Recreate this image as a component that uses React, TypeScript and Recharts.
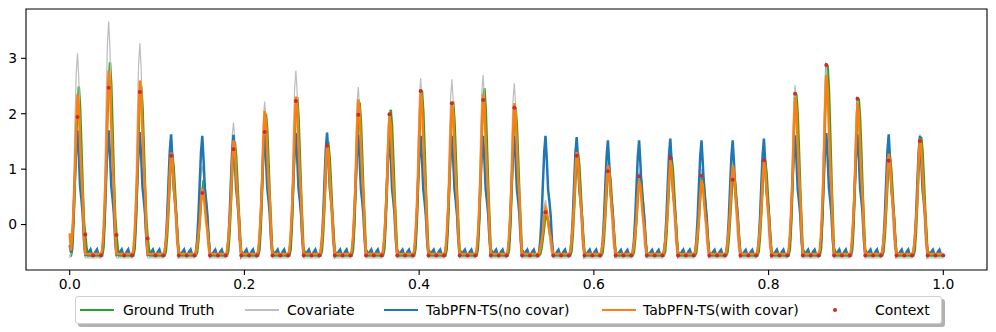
import React from 'react';
import { LineChart, Line, XAxis, YAxis, ReferenceArea } from 'recharts';

// one point per hour, 28 days, x scaled to 0..1
const DAYS = 28;
const HOURS = 24;

// per-day peak heights
const truthPeak = [2.49, 2.93, 2.5, 1.25, 0.8, 1.5, 2.0, 2.3, 1.45, 2.2, 2.07, 2.4, 2.2, 2.46, 2.1, 0.15, 1.3, 1.0, 0.9, 1.2, 0.9, 0.92, 1.15, 2.34, 2.86, 2.25, 1.2, 1.58];
const contextMorning = [1.94, 2.47, 2.39, 1.24, 0.57, 1.36, 1.67, 2.23, 1.42, 1.98, 1.99, 2.41, 2.19, 2.25, 2.11, 0.22, 1.24, 0.96, 0.87, 1.21, 0.88, 0.81, 1.16, 2.36, 2.88, 2.27, 1.15, 1.51];
const contextNoon = [-0.18, -0.19, -0.25, -0.56, -0.56, -0.56, -0.56, -0.56, -0.56, -0.56, -0.56, -0.56, -0.56, -0.56, -0.56, -0.56, -0.56, -0.56, -0.56, -0.56, -0.56, -0.56, -0.56, -0.56, -0.56, -0.56, -0.56, -0.56];
const covarPeak = [3.09, 3.67, 3.27, 1.6, 1.06, 1.84, 2.22, 2.78, 1.66, 2.48, 2.05, 2.64, 2.62, 2.7, 2.55, 0.44, 1.57, 1.1, 0.95, 1.3, 1.0, 1.0, 1.2, 2.52, 2.9, 2.3, 1.3, 1.63];
const withCovPeak = [2.35, 2.78, 2.6, 1.3, 0.65, 1.52, 2.05, 2.31, 1.45, 2.26, 1.95, 2.37, 2.2, 2.35, 2.19, 0.3, 1.31, 1.07, 0.8, 1.16, 0.8, 1.07, 1.15, 2.3, 2.7, 2.2, 1.28, 1.55];
const noCovPeak = [1.7, 1.7, 1.67, 1.63, 1.6, 1.62, 1.62, 1.65, 1.66, 1.62, 1.6, 1.6, 1.6, 1.6, 1.6, 1.6, 1.58, 1.52, 1.52, 1.55, 1.52, 1.52, 1.55, 1.61, 1.65, 1.63, 1.63, 1.6];

// night-time floor of each series
const truthFloor = -0.56;
const covarFloor = -0.6;
const withCovFloor = -0.53;
const noCovFloor = -0.55;

// first reading of the two forecasts at x = 0
const noCovStart = -0.37;
const withCovStart = -0.16;

// daily shapes (0 = floor, 1 = peak), hour 0..23, read from one cycle
const truthShape = [0, 0, 0.04, 0.2, 0.45, 0.72, 0.92, 1, 0.88, 0.65, 0.4, 0.2, 0, 0.02, 0, 0, 0, 0, 0, 0, 0, 0, 0, 0];
const covarShape = [0, 0.02, 0.12, 0.36, 0.65, 0.9, 1, 0.88, 0.62, 0.36, 0.15, 0.04, 0, 0, 0, 0, 0, 0, 0, 0, 0, 0, 0, 0];
const withCovShape = [0, 0.02, 0.12, 0.28, 0.48, 0.8, 1, 0.93, 0.7, 0.5, 0.36, 0.12, 0, 0, 0, 0, 0, 0, 0, 0, 0, 0, 0, 0];
const noCovShape = [0, 0.02, 0.12, 0.32, 0.6, 0.86, 1, 0.8, 0.55, 0.45, 0.33, 0.12, 0, 0, 0.01, 0.03, 0.045, 0.01, 0, 0.01, 0.03, 0.045, 0.01, 0];

const xTicks = [0, 0.2, 0.4, 0.6, 0.8, 1.0];
const yTicks = [0, 1, 2, 3];

const FONT = '"DejaVu Sans", sans-serif';

const total = DAYS * HOURS;
const rows = Array.from({ length: total + 1 }, (_, i) => {
  const d = Math.min(Math.floor(i / HOURS), DAYS - 1);
  const hh = i - d * HOURS;
  const h = hh % HOURS;
  const scale = (floor: number, peak: number, s: number) => floor + (peak - floor) * s;
  let truth = scale(truthFloor, truthPeak[d], truthShape[h]);
  if (h === 6) truth = contextMorning[d];
  if (hh === 12) truth = contextNoon[d];
  if (hh === 13 && contextNoon[d] > truthFloor) truth = (contextNoon[d] + truthFloor * 2) / 3;
  return {
    x: i / total,
    truth,
    covar: scale(covarFloor, covarPeak[d], covarShape[h]),
    noCov: i === 0 ? noCovStart : scale(noCovFloor, noCovPeak[d], noCovShape[h]),
    withCov: i === 0 ? withCovStart : scale(withCovFloor, withCovPeak[d], withCovShape[h]),
    ctx: i > 0 && i % 6 === 0 ? truth : null,
  };
});

const legendItems = [
  { name: 'Ground Truth', color: '#2ca02c', width: 2.2, handle: 80, text: 123 },
  { name: 'Covariate', color: '#bfbfbf', width: 1.2, handle: 245, text: 287 },
  { name: 'TabPFN-TS(no covar)', color: '#1f77b4', width: 2.2, handle: 384, text: 426 },
  { name: 'TabPFN-TS(with covar)', color: '#ff7f0e', width: 2.2, handle: 602, text: 643 },
  { name: 'Context', color: '#d62728', width: 0, handle: 818, text: 875 },
];

const App = () => {
  return (
    <div style={{ position: 'absolute', left: 0, top: 0, width: 996, height: 332, background: '#fff', fontFamily: FONT }}>
      <LineChart width={996} height={332} data={rows} margin={{ top: 9, right: 9, bottom: 0, left: 6 }}>
        <XAxis
          type="number"
          dataKey="x"
          domain={[-0.05, 1.05]}
          ticks={xTicks}
          interval={0}
          allowDataOverflow
          height={62}
          tickSize={5}
          tickMargin={4}
          tickFormatter={(v: number) => v.toFixed(1)}
          tick={{ fill: '#000', fontSize: 13.9, fontFamily: FONT }}
          axisLine={false}
          tickLine={{ stroke: '#000', strokeWidth: 1.1 }}
        />
        <YAxis
          type="number"
          domain={[-0.82, 3.89]}
          ticks={yTicks}
          interval={0}
          allowDataOverflow
          width={20}
          tickSize={5}
          tickMargin={4}
          tick={{ fill: '#000', fontSize: 13.9, fontFamily: FONT }}
          axisLine={false}
          tickLine={{ stroke: '#000', strokeWidth: 1.1 }}
        />
        <Line type="linear" dataKey="truth" stroke="#2ca02c" strokeWidth={2.5} dot={false} isAnimationActive={false} />
        <Line type="linear" dataKey="covar" stroke="#bdbdbd" strokeWidth={1.2} dot={false} isAnimationActive={false} />
        <Line type="linear" dataKey="noCov" stroke="#1f77b4" strokeWidth={2.5} dot={false} isAnimationActive={false} />
        <Line type="linear" dataKey="withCov" stroke="#ff7f0e" strokeWidth={2.5} dot={false} isAnimationActive={false} />
        <Line
          type="linear"
          dataKey="ctx"
          stroke="none"
          dot={{ r: 2, fill: '#d62728', stroke: 'none' }}
          activeDot={false}
          isAnimationActive={false}
        />
        <ReferenceArea x1={-0.05} x2={1.05} y1={-0.82} y2={3.89} fill="none" stroke="#000" strokeWidth={1.1} />
      </LineChart>
      <div
        style={{
          position: 'absolute',
          left: 75,
          top: 296,
          width: 867,
          height: 28,
          boxSizing: 'border-box',
          border: '1px solid #d0d0d0',
          borderRadius: 3,
          boxShadow: '3px 3px 0 rgba(0,0,0,0.3)',
          background: '#fff',
          fontSize: 14,
          color: '#000',
        }}
      >
        {legendItems.map((it) => (
          <React.Fragment key={it.name}>
            {it.width > 0 ? (
              <div style={{ position: 'absolute', left: it.handle - 76, top: 13 - it.width / 2, width: 34, height: it.width, background: it.color }} />
            ) : (
              <div style={{ position: 'absolute', left: it.handle - 76 + 15, top: 11, width: 4, height: 4, borderRadius: 2, background: it.color }} />
            )}
            <span style={{ position: 'absolute', left: it.text - 76, top: 4, lineHeight: '18px', whiteSpace: 'nowrap' }}>{it.name}</span>
          </React.Fragment>
        ))}
      </div>
    </div>
  );
};

export default App;
